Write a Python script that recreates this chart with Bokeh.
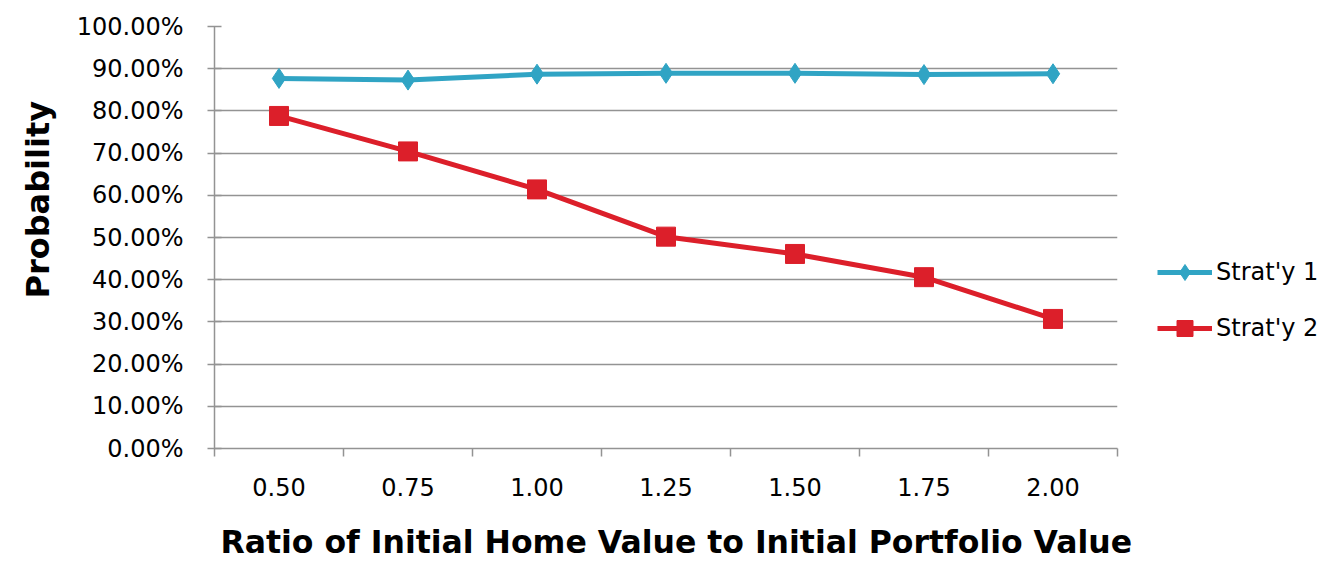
from bokeh.plotting import figure
from bokeh.layouts import row, column
from bokeh.models import (Range1d, FixedTicker, NumeralTickFormatter, Legend, LegendItem,
                          ColumnDataSource, Title, Label)
from bokeh.embed import file_html
from bokeh.resources import INLINE

ratios = ["0.50", "0.75", "1.00", "1.25", "1.50", "1.75", "2.00"]
strat1 = [0.877, 0.873, 0.887, 0.889, 0.889, 0.886, 0.888]
strat2 = [0.788, 0.704, 0.614, 0.502, 0.461, 0.406, 0.307]
y_ticks = [0.0, 0.1, 0.2, 0.3, 0.4, 0.5, 0.6, 0.7, 0.8, 0.9, 1.0]
series_names = ["Strat'y 1", "Strat'y 2"]
x_title = "Ratio of Initial Home Value to Initial Portfolio Value"
y_title = "Probability"

xpos = [i + 0.5 for i in range(len(ratios))]
src = ColumnDataSource(dict(x=xpos, s1=strat1, s2=strat2))

FONT = "DejaVu Sans"
GRID = "#939393"
C1 = "#30A4C4"
C2 = "#DC1F2A"

W, H = 1325, 563
P_W = 1145
TOP_H = 511          # height of the plot row; the x title sits in a strip below
BOTTOM_B = TOP_H - 448

p = figure(width=P_W, height=TOP_H, output_backend="svg", toolbar_location=None,
           x_range=Range1d(0, len(ratios)), y_range=Range1d(0, 1),
           min_border_left=212, min_border_right=P_W - 1117, min_border_top=26,
           min_border_bottom=BOTTOM_B)
p.outline_line_color = None
p.background_fill_color = "white"
p.border_fill_color = "white"

# x axis
xa = p.xaxis[0]
xa.ticker = FixedTicker(ticks=xpos, minor_ticks=list(range(len(ratios) + 1)))
xa.major_label_overrides = {x: r for x, r in zip(xpos, ratios)}
xa.major_tick_in = 0
xa.major_tick_out = 0
xa.minor_tick_in = 0
xa.minor_tick_out = 8
xa.minor_tick_line_color = GRID
xa.minor_tick_line_width = 1.5
xa.axis_line_color = GRID
xa.axis_line_width = 1.5
xa.major_label_text_font = FONT
xa.major_label_text_font_size = "24px"
xa.major_label_text_color = "black"
xa.major_label_standoff = 21

# y axis
ya = p.yaxis[0]
ya.ticker = FixedTicker(ticks=y_ticks, minor_ticks=[])
ya.formatter = NumeralTickFormatter(format="0.00%")
ya.major_tick_in = 7
ya.major_tick_out = 7
ya.major_tick_line_color = GRID
ya.major_tick_line_width = 1.5
ya.axis_line_color = GRID
ya.axis_line_width = 1.5
ya.major_label_text_font = FONT
ya.major_label_text_font_size = "24px"
ya.major_label_text_color = "black"
ya.major_label_standoff = 24

p.xgrid.grid_line_color = None
p.ygrid.ticker = FixedTicker(ticks=y_ticks)
p.ygrid.grid_line_color = GRID
p.ygrid.grid_line_width = 1.5

p.add_layout(Title(text=y_title, align="left", offset=150, standoff=33,
                   text_font=FONT, text_font_style="bold", text_font_size="32px",
                   text_color="black"), "left")

l1 = p.line("x", "s1", source=src, line_color=C1, line_width=5)
m1 = p.scatter("x", "s1", source=src, marker="diamond", size=20, fill_color=C1, line_color=C1)
l2 = p.line("x", "s2", source=src, line_color=C2, line_width=5)
m2 = p.scatter("x", "s2", source=src, marker="square", size=19, fill_color=C2, line_color=C2)

# legend panel (separate figure to the right of the plot); its renderers are hidden
q = figure(width=W - P_W, height=TOP_H, output_backend="svg", toolbar_location=None,
           x_range=Range1d(0, 1), y_range=Range1d(0, 1),
           x_axis_location=None, y_axis_location=None,
           min_border_left=0, min_border_right=0, min_border_top=26,
           min_border_bottom=BOTTOM_B)
q.outline_line_color = None
q.grid.grid_line_color = None
q1 = q.line("x", "s1", source=src, line_color=C1, line_width=5, visible=False)
qm1 = q.scatter("x", "s1", source=src, marker="diamond", size=20, fill_color=C1,
                line_color=C1, visible=False)
q2 = q.line("x", "s2", source=src, line_color=C2, line_width=5, visible=False)
qm2 = q.scatter("x", "s2", source=src, marker="square", size=19, fill_color=C2,
                line_color=C2, visible=False)

legend = Legend(items=[LegendItem(label=series_names[0], renderers=[q1, qm1]),
                       LegendItem(label=series_names[1], renderers=[q2, qm2])],
                location=(1157 - P_W, 100), orientation="vertical",
                glyph_width=55, glyph_height=40, label_height=40, spacing=16,
                label_standoff=4, padding=0, margin=0,
                border_line_color=None, background_fill_alpha=0,
                label_text_font=FONT, label_text_font_size="24px",
                label_text_color="black")
q.add_layout(legend, "center")

# strip holding the x-axis title
r = figure(width=W, height=H - TOP_H, output_backend="svg", toolbar_location=None,
           x_range=Range1d(0, 1), y_range=Range1d(0, 1),
           x_axis_location=None, y_axis_location=None, min_border=0)
r.outline_line_color = None
r.grid.grid_line_color = None
r.add_layout(Label(x=220, y=22, x_units="screen", y_units="screen", text=x_title,
                   text_font=FONT, text_font_style="bold", text_font_size="31.5px",
                   text_color="black", text_baseline="alphabetic", text_align="left"))

layout = column(row(p, q, spacing=0), r, spacing=0)
open("out.html", "w").write(file_html(layout, INLINE))
